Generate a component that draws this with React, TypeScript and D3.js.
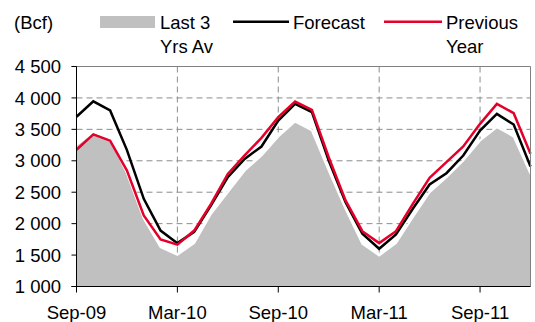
import React from "react";
import * as d3 from "d3";

const months = ["Sep-09","Oct-09","Nov-09","Dec-09","Jan-10","Feb-10","Mar-10","Apr-10","May-10","Jun-10","Jul-10","Aug-10","Sep-10","Oct-10","Nov-10","Dec-10","Jan-11","Feb-11","Mar-11","Apr-11","May-11","Jun-11","Jul-11","Aug-11","Sep-11","Oct-11","Nov-11","Dec-11"];
const last3YrsAv = [3250, 3455, 3350, 2800, 2080, 1625, 1505, 1690, 2156, 2500, 2845, 3084, 3385, 3625, 3482, 2845, 2236, 1680, 1493, 1690, 2103, 2500, 2739, 3004, 3323, 3535, 3386, 2792];
const forecast = [3700, 3945, 3800, 3170, 2395, 1890, 1690, 1870, 2290, 2740, 3030, 3227, 3640, 3906, 3773, 3004, 2340, 1840, 1600, 1827, 2236, 2623, 2803, 3084, 3482, 3747, 3577, 2909];
const previousYear = [3175, 3420, 3320, 2845, 2130, 1750, 1665, 1890, 2315, 2790, 3085, 3365, 3694, 3943, 3810, 3057, 2370, 1880, 1690, 1880, 2315, 2729, 2978, 3227, 3588, 3906, 3757, 3111];
const yTicks = [1000, 1500, 2000, 2500, 3000, 3500, 4000, 4500];
const xTickLabels = ["Sep-09", "Mar-10", "Sep-10", "Mar-11", "Sep-11"];

const W = 535, H = 322;
const L = 76.5, R = 530.5, T = 66.5, B = 286.5;
const FONT = "'Liberation Sans', Arial, sans-serif";
const FS = 18.5;

export default function App() {
  const x = d3.scaleLinear().domain([0, months.length - 1]).range([L, R]);
  const y = d3.scaleLinear().domain([1000, 4500]).range([B, T]);
  const fmt = (v: number) => d3.format(",")(v).replace(/,/g, " ");

  const area = d3.area<number>().x((_, i) => x(i)).y0(B).y1(d => y(d));
  const line = d3.line<number>().x((_, i) => x(i)).y(d => y(d));

  const gridY = yTicks.filter(v => v > 1000 && v < 4500);
  const xTickIdx = xTickLabels.map(l => months.indexOf(l));

  return (
    <svg width={W} height={H} style={{ position: "absolute", left: 0, top: 0, background: "#fff" }} fontFamily={FONT}>
      <rect x={0} y={0} width={W} height={H} fill="#fff" />
      {/* gridlines */}
      {gridY.map(v => (
        <line key={"gy" + v} x1={L} x2={R} y1={y(v)} y2={y(v)} stroke="#8c8c8c" strokeWidth={1} strokeDasharray="6,4" />
      ))}
      {xTickIdx.slice(1).map(i => (
        <line key={"gx" + i} x1={x(i)} x2={x(i)} y1={T} y2={B} stroke="#8c8c8c" strokeWidth={1} strokeDasharray="6,4" />
      ))}
      {/* area */}
      <path d={area(last3YrsAv) || ""} fill="#c0c0c0" />
      <path d={line(last3YrsAv) || ""} fill="none" stroke="#fff" strokeWidth={2} />
      {/* lines */}
      <path d={line(forecast) || ""} fill="none" stroke="#000" strokeWidth={2.5} strokeLinejoin="miter" />
      <path d={line(previousYear) || ""} fill="none" stroke="#e4002b" strokeWidth={2.5} strokeLinejoin="miter" />
      {/* frame */}
      <line x1={L - 5} x2={R} y1={T} y2={T} stroke="#808080" strokeWidth={1} />
      <line x1={R} x2={R} y1={T} y2={B} stroke="#808080" strokeWidth={1} />
      <line x1={L} x2={L} y1={T} y2={B} stroke="#000" strokeWidth={1} />
      <line x1={L - 5} x2={R} y1={B} y2={B} stroke="#000" strokeWidth={1} />
      {yTicks.map(v => (
        <g key={"yt" + v}>
          <line x1={L - 5} x2={L} y1={y(v)} y2={y(v)} stroke="#000" strokeWidth={1} />
          <text x={61} y={y(v) + 6.7} textAnchor="end" fontSize={FS} fill="#000">{fmt(v)}</text>
        </g>
      ))}
      {xTickIdx.map((i, k) => (
        <g key={"xt" + i}>
          <line x1={x(i)} x2={x(i)} y1={B} y2={B + 6} stroke="#000" strokeWidth={1} />
          <text x={x(i)} y={319.3} textAnchor="middle" fontSize={FS} fill="#000">{xTickLabels[k]}</text>
        </g>
      ))}
      {/* legend */}
      <text x={14} y={29} fontSize={FS} fill="#000">(Bcf)</text>
      <rect x={100} y={16} width={55} height={12} fill="#c0c0c0" />
      <text x={160} y={28.5} fontSize={FS} fill="#000">Last 3</text>
      <text x={160} y={52.5} fontSize={FS} fill="#000">Yrs Av</text>
      <line x1={233} x2={289} y1={21.7} y2={21.7} stroke="#000" strokeWidth={2.5} />
      <text x={293} y={28.5} fontSize={FS} fill="#000">Forecast</text>
      <line x1={384} x2={442} y1={21.7} y2={21.7} stroke="#e4002b" strokeWidth={2.5} />
      <text x={446} y={28.5} fontSize={FS} fill="#000">Previous</text>
      <text x={446} y={52.5} fontSize={FS} fill="#000">Year</text>
    </svg>
  );
}
